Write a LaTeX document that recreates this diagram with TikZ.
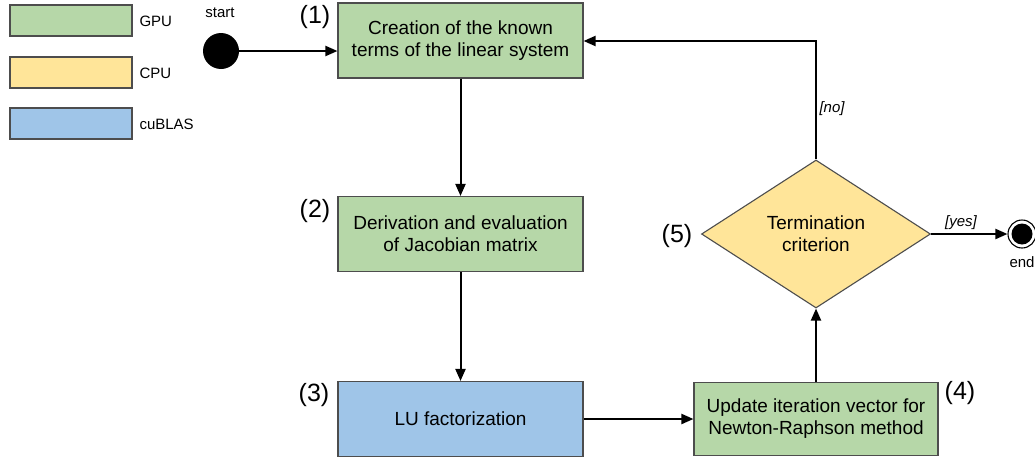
\documentclass[tikz,border=0pt]{standalone}
\usepackage{fontspec}
\setmainfont{Liberation Sans}
\usetikzlibrary{shapes.geometric,arrows.meta}
\definecolor{gpugreen}{HTML}{B6D7A8}
\definecolor{cpuyellow}{HTML}{FFE599}
\definecolor{blasblue}{HTML}{9FC5E8}
\definecolor{edge}{HTML}{4D4D4D}
\tikzset{
  stepbox/.style={draw=edge, line width=1.1pt, minimum width=245pt, minimum height=75pt,
    align=center, font=\fontsize{19}{22}\selectfont, inner sep=0pt},
  legbox/.style={draw=edge, line width=1.1pt, minimum width=122pt, minimum height=31pt, inner sep=0pt},
  leglabel/.style={anchor=west, font=\fontsize{15}{17}\selectfont},
  numlabel/.style={font=\fontsize{25}{27}\selectfont},
  flow/.style={line width=2pt, -{Triangle[length=12pt,width=10pt]}},
  guard/.style={font=\itshape\fontsize{15}{17}\selectfont},
}
\begin{document}
\begin{tikzpicture}[x=1pt,y=-1pt]
\useasboundingbox (0,0) rectangle (1035,458);
% legend
\node[legbox, fill=gpugreen] (lg) at (71,20.5) {};
\node[leglabel] at (136,21) {GPU};
\node[legbox, fill=cpuyellow] (lc) at (71,72.5) {};
\node[leglabel] at (136,73) {CPU};
\node[legbox, fill=blasblue] (lb) at (71,123.5) {};
\node[leglabel] at (136,124) {cuBLAS};
% start / end
\node[circle, fill=black, minimum size=36pt, inner sep=0pt] (start) at (221,51) {};
\node[font=\fontsize{15}{17}\selectfont] at (220,13) {start};
\node[circle, draw=black, line width=1.1pt, fill=white, minimum size=28pt, inner sep=0pt] (endo) at (1022,234) {};
\node[circle, fill=black, minimum size=21pt, inner sep=0pt] at (endo) {};
\node[font=\fontsize{15}{17}\selectfont] at (1022,262) {end};
% steps
\node[stepbox, fill=gpugreen] (s1) at (460.5,40.5) {Creation of the known\\terms of the linear system};
\node[numlabel] at (315,17) {(1)};
\node[stepbox, fill=gpugreen] (s2) at (460.5,234) {Derivation and evaluation\\of Jacobian matrix};
\node[numlabel] at (315,211) {(2)};
\node[stepbox, fill=blasblue] (s3) at (460.5,419) {LU factorization};
\node[numlabel] at (314,395) {(3)};
\node[stepbox, fill=gpugreen, minimum width=244pt, minimum height=73pt] (s4) at (816,419) {Update iteration vector for\\Newton-Raphson method};
\node[numlabel] at (960,393) {(4)};
\node[diamond, draw=edge, line width=1.1pt, fill=cpuyellow, minimum width=229pt, minimum height=148pt,
  inner sep=0pt, align=center, font=\fontsize{19}{22}\selectfont] (d5) at (816,234) {Termination\\criterion};
\node[numlabel] at (677,236) {(5)};
% flow
\draw[flow] (start) -- (s1.west |- start);
\draw[flow] (s1) -- (s2);
\draw[flow] (s2) -- (s3);
\draw[flow] (s3) -- (s4);
\draw[flow] (s4) -- (d5);
\draw[flow] (d5.north) -- (816,41) -- (s1.east |- 0,41);
\node[guard] at (832,109) {[no]};
\draw[flow] (d5.east) -- (endo);
\node[guard] at (961,223) {[yes]};
\end{tikzpicture}
\end{document}
